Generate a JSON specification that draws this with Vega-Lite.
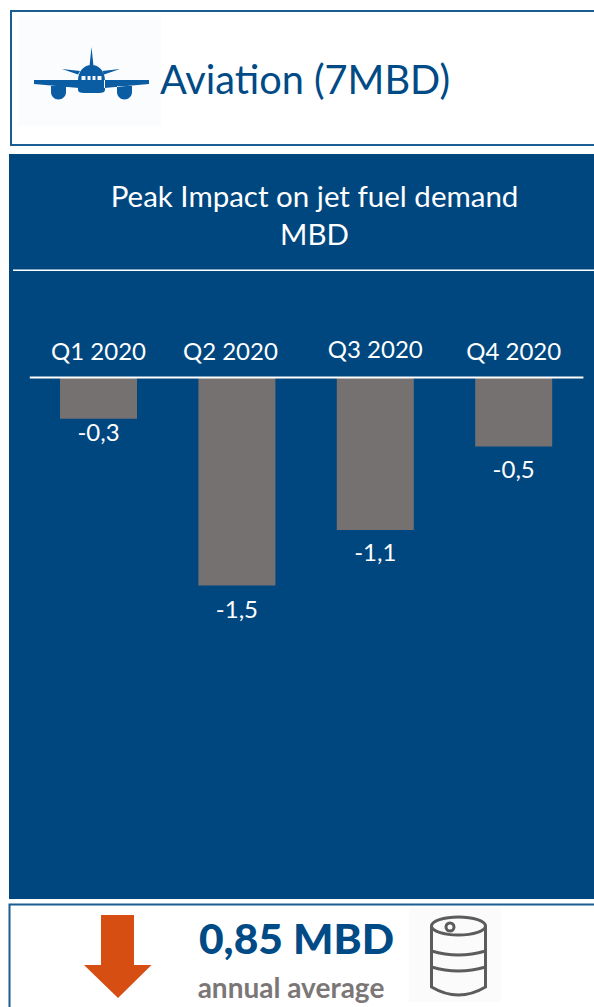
{
  "$schema": "https://vega.github.io/schema/vega-lite/v6.json",
  "padding": {"left": 5, "top": 7, "right": 0, "bottom": 0},
  "autosize": {"type": "pad"},
  "background": "white",
  "bounds": "flush",
  "spacing": 0,
  "config": {
    "view": {"stroke": null},
    "font": "Lato",
    "locale": {"number": {"decimal": ",", "thousands": ".", "grouping": [3], "currency": ["", " €"], "minus": "-"}}
  },
  "vconcat": [
    {
      "width": 585,
      "height": 144,
      "data": {"values": [{"sector": "Aviation (7MBD)"}]},
      "layer": [
        {
          "mark": {"type": "point", "filled": false, "opacity": 1, "size": 4, "stroke": "#1b5d91", "strokeWidth": 2, "shape": "M293,-71 H-290.5 V63 H293"},
          "encoding": {}
        },
        {
          "mark": {"type": "point", "filled": true, "opacity": 1, "size": 4, "fill": "#fafcfe", "xOffset": -212, "yOffset": -11.5, "shape": "M-71.3,-55.5 H71.3 V55.5 H-71.3 Z"},
          "encoding": {}
        },
        {
          "mark": {"type": "point", "filled": true, "opacity": 1, "size": 4, "fill": "#0a5ca3", "xOffset": -209.5, "yOffset": -9,
            "shape": "M-0.5,-26 L1.5,-7 H-2.5 Z M-14,8 C-14,-2 -8,-8 -0.5,-8 C7,-8 13,-2 13,8 V17 Q13,20 7,20 H-8 Q-14,20 -14,17 Z M-58,7 H-13 V15 L-58,11 Z M57,7 H12 V15 L57,11 Z M-30,-4 L-12,-2 L-14,1.5 Z M28,-4 L10,-2 L12,1.5 Z M-41,13 H-26 V19 A7.5,7.5 0 0 1 -41,19 Z M25,13 H40 V19 A7.5,7.5 0 0 1 25,19 Z"},
          "encoding": {}
        },
        {
          "mark": {"type": "point", "filled": true, "opacity": 1, "size": 4, "fill": "#f4f8fc", "xOffset": -209.5, "yOffset": -9,
            "shape": "M-10.5,3 H-6.5 V7 H-10.5 Z M-4.5,3 H-1.5 V7 H-4.5 Z M0.5,3 H3.5 V7 H0.5 Z M5.5,3 H9.5 V7 H5.5 Z"},
          "encoding": {}
        },
        {
          "mark": {"type": "text", "fontSize": 39.7, "color": "#004a86", "dx": 3.5, "dy": 0, "baseline": "middle"},
          "encoding": {"text": {"field": "sector", "type": "nominal"}}
        }
      ]
    },
    {
      "width": 585,
      "height": 117,
      "view": {"fill": "#00477f", "stroke": null},
      "data": {"values": [{"heading": "Peak Impact on jet fuel demand\nMBD"}]},
      "layer": [
        {
          "mark": {"type": "text", "fontSize": 29.5, "color": "white", "lineBreak": "\n", "lineHeight": 38, "dx": 13, "dy": -14.5, "baseline": "middle"},
          "encoding": {"text": {"field": "heading", "type": "nominal"}}
        },
        {
          "mark": {"type": "point", "filled": false, "opacity": 1, "size": 4, "stroke": "white", "strokeWidth": 2, "yOffset": 58, "shape": "M-288.5,0 H292.5"},
          "encoding": {}
        }
      ]
    },
    {
      "width": 585,
      "height": 628,
      "view": {"fill": "#00477f", "stroke": null},
      "data": {
        "values": [
          {"quarter": "Q1 2020", "impact": -0.3},
          {"quarter": "Q2 2020", "impact": -1.5},
          {"quarter": "Q3 2020", "impact": -1.1},
          {"quarter": "Q4 2020", "impact": -0.5}
        ]
      },
      "encoding": {
        "x": {
          "field": "quarter",
          "type": "nominal",
          "sort": null,
          "scale": {"range": [20.3, 573.9], "paddingInner": 0.4436, "paddingOuter": 0.2218},
          "axis": {
            "orient": "top",
            "offset": -106,
            "title": null,
            "ticks": false,
            "grid": false,
            "zindex": 1,
            "domainColor": "white",
            "domainWidth": 2,
            "labelAngle": 0,
            "labelColor": "white",
            "labelFont": "Lato",
            "labelFontSize": 24,
            "labelOffset": {"expr": "datum.value === 'Q2 2020' ? -6.5 : 0"},
            "labelPadding": {"expr": "datum.value === 'Q3 2020' ? 15 : 13"}
          }
        },
        "y": {
          "field": "impact",
          "type": "quantitative",
          "scale": {"domain": [0, -3.755], "range": [106, 628]},
          "axis": null
        }
      },
      "layer": [
        {"mark": {"type": "bar", "color": "#747170"}},
        {
          "mark": {"type": "text", "fontSize": 24, "color": "white", "baseline": "middle", "dy": {"expr": "datum.quarter === 'Q1 2020' ? 15 : datum.quarter === 'Q2 2020' ? 25 : 24"}},
          "encoding": {"text": {"field": "impact", "type": "quantitative", "format": ".1f"}}
        }
      ]
    },
    {
      "width": 585,
      "height": 108,
      "data": {"values": [{"amount": "0,85 MBD", "note": "annual average"}]},
      "layer": [
        {
          "mark": {"type": "point", "filled": false, "opacity": 1, "size": 4, "stroke": "#1b5d91", "strokeWidth": 2, "shape": "M293,-48.5 H-292 V55"},
          "encoding": {}
        },
        {
          "mark": {"type": "point", "filled": true, "opacity": 1, "size": 4, "fill": "#d64e12", "xOffset": -183.5, "yOffset": 3, "shape": "M-17,-41 H16 V9 H33.5 L0,42 L-34,9 H-17 Z"},
          "encoding": {}
        },
        {
          "mark": {"type": "point", "filled": true, "opacity": 1, "size": 4, "fill": "#fbfbfb", "xOffset": 153.5, "yOffset": 2, "shape": "M-46,-47 H46 V47 H-46 Z"},
          "encoding": {}
        },
        {
          "mark": {"type": "point", "filled": false, "opacity": 1, "size": 4, "stroke": "#5c5c5c", "strokeWidth": 3, "xOffset": 157, "yOffset": 3,
            "shape": "M-27,-30 A27,9 0 1 1 27,-30 A27,9 0 1 1 -27,-30 Z M-27,-30 V31 Q0,47 27,31 V-30 M-27,-5 Q0,3 27,-5 M-27,11 Q0,19 27,11 M-12.5,-29 A4,4 0 1 1 -4.5,-29 A4,4 0 1 1 -12.5,-29 Z"},
          "encoding": {}
        },
        {
          "mark": {"type": "text", "fontSize": 42.5, "fontWeight": 900, "color": "#004a86", "baseline": "middle", "dx": -5, "dy": -12},
          "encoding": {"text": {"field": "amount", "type": "nominal"}}
        },
        {
          "mark": {"type": "text", "fontSize": 28, "fontWeight": "bold", "color": "#7a7776", "baseline": "middle", "dx": -10.5, "dy": 37},
          "encoding": {"text": {"field": "note", "type": "nominal"}}
        }
      ]
    }
  ]
}
